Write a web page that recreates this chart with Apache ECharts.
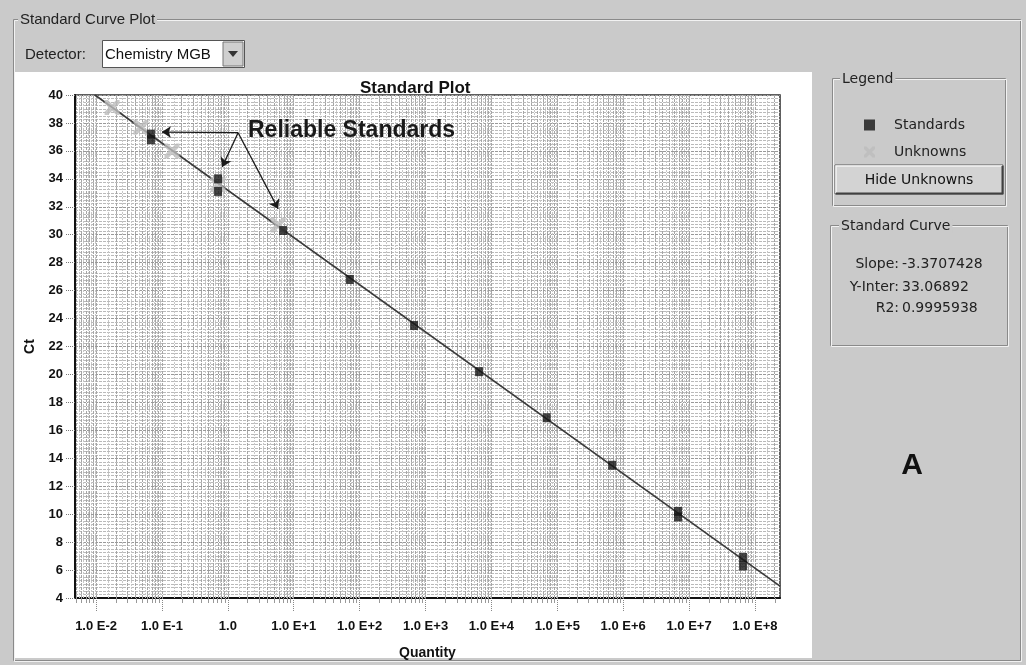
<!DOCTYPE html>
<html><head><meta charset="utf-8">
<script src="https://cdn.jsdelivr.net/npm/echarts@6/dist/echarts.min.js"></script>
<style>html,body{margin:0;padding:0;background:#cacaca;}#c{width:1026px;height:665px;}</style>
</head><body><div id="c"></div>
<script>
// ---- data ----
const standardQuantity = [0.068, 0.068, 0.71, 0.71, 6.9, 71, 670, 6500, 69000, 680000, 6.8e6, 6.8e6, 6.6e7, 6.6e7];
const standardCt       = [37.2, 36.8, 34.0, 33.1, 30.3, 26.8, 23.5, 20.2, 16.9, 13.5, 10.2, 9.8, 6.9, 6.3];
const unknownQuantity  = [0.0175, 0.048, 0.142, 0.71, 5.8];
const unknownCt        = [39.1, 37.7, 36.0, 33.6, 30.7];
const fitQuantity      = [0.0096, 2.4e8];
const fitCt            = [40.0, 4.85];
const arrowFromQuantity = [1.43, 1.43, 1.43];
const arrowFromCt       = [37.3, 37.3, 37.3];
const arrowToQuantity   = [0.10, 0.82, 5.8];
const arrowToCt         = [37.35, 34.85, 31.85];
const decadeExponents   = [-2, -1, 0, 1, 2, 3, 4, 5, 6, 7, 8];
const curveLabels = ['Slope:', 'Y-Inter:', 'R2:'];
const curveValues = ['-3.3707428', '33.06892', '0.9995938'];
const legendNames = ['Standards', 'Unknowns'];

const X_MIN = -2.32, X_MAX = 8.38;
const lg = Math.log10;
const xr = v => Math.round(v * 1e6) / 1e6;

// log-decade sub lines of each decade for grid and minor ticks
const minorPos = [], gridPos = [], halfPos = [];
for (let n = -3; n <= 8; n++) {
  for (let k = 1; k <= 9; k++) {
    const p = xr(n + lg(k));
    if (p > X_MIN && p < X_MAX) {
      gridPos.push(p);
      if (k > 1) minorPos.push(p);
    }
    const h = xr(n + lg(k + 0.5));
    if (h > X_MIN && h < X_MAX) halfPos.push(h);
  }
}

const FONT = '"Liberation Sans", Arial, sans-serif';
const UI = '"DejaVu Sans", sans-serif';
const xPath = 'path://M0,0L2.2,0L10,7.8L10,10L7.8,10L0,2.2Z M7.8,0L10,0L10,2.2L2.2,10L0,10L0,7.8Z';

const chart = echarts.init(document.getElementById('c'), null, {renderer: 'canvas'});

function groupBox(x, y, w, h, title, tx, font) {
  return [
    {type: 'rect', z: -5, shape: {x: x + 0.5, y: y + 0.5, width: w, height: h}, style: {fill: 'none', stroke: '#8a8a8a', lineWidth: 1}},
    {type: 'rect', z: -5, shape: {x: x + 1.5, y: y + 1.5, width: w, height: h}, style: {fill: 'none', stroke: '#f2f2f2', lineWidth: 1}},
    {type: 'text', z: -4, style: {text: title, x: tx, y: y + 1, fill: '#222', fontSize: font.size, fontFamily: font.family,
      backgroundColor: '#cacaca', padding: [0, 2], align: 'left', verticalAlign: 'middle', textAlign: 'left', textVerticalAlign: 'middle'}}
  ];
}

const graphics = [];
graphics.push(...groupBox(13, 19, 1007, 641, 'Standard Curve Plot', 18, {size: 15, family: FONT}));
graphics.push({type: 'text', style: {text: 'Detector:', x: 25, y: 55, fill: '#222', fontSize: 15, fontFamily: FONT, verticalAlign: 'middle', textVerticalAlign: 'middle'}});
graphics.push({type: 'rect', shape: {x: 102.5, y: 40.5, width: 142, height: 27}, style: {fill: '#fff', stroke: '#555'}});
graphics.push({type: 'text', style: {text: 'Chemistry MGB', x: 105, y: 55, fill: '#111', fontSize: 15, fontFamily: FONT, verticalAlign: 'middle', textVerticalAlign: 'middle'}});
graphics.push({type: 'rect', shape: {x: 223, y: 42, width: 20, height: 24}, style: {fill: '#cfcfcf', stroke: '#777'}});
graphics.push({type: 'polygon', shape: {points: [[228, 51], [238, 51], [233, 57]]}, style: {fill: '#333'}});
graphics.push({type: 'rect', z: -8, shape: {x: 15, y: 72, width: 797, height: 586}, style: {fill: '#ffffff'}});
graphics.push({type: 'text', z: 20, style: {text: 'Reliable Standards', x: 248, y: 131, fill: '#1a1a1a', fontSize: 23, fontWeight: 'bold', fontFamily: FONT, verticalAlign: 'middle', textVerticalAlign: 'middle'}});
graphics.push(...groupBox(832, 78, 173, 127, 'Legend', 840, {size: 14, family: UI}));
graphics.push({type: 'rect', shape: {x: 835, y: 165, width: 168, height: 29}, style: {fill: '#d3d3d3', stroke: '#5a5a5a', lineWidth: 1}});
graphics.push({type: 'polyline', shape: {points: [[836, 193], [836, 166], [1002, 166]]}, style: {stroke: '#f4f4f4', lineWidth: 1.5, fill: 'none'}});
graphics.push({type: 'polyline', shape: {points: [[836, 193.5], [1002.5, 193.5], [1002.5, 166]]}, style: {stroke: '#404040', lineWidth: 2, fill: 'none'}});
graphics.push({type: 'text', style: {text: 'Hide Unknowns', x: 919, y: 180, fill: '#111', fontSize: 14, fontFamily: UI, align: 'center', verticalAlign: 'middle', textAlign: 'center', textVerticalAlign: 'middle'}});
graphics.push(...groupBox(830, 225, 177, 120, 'Standard Curve', 839, {size: 14, family: UI}));
curveLabels.forEach((t, i) => {
  const y = [264, 287, 308][i];
  graphics.push({type: 'text', style: {text: t, x: 899, y: y, fill: '#222', fontSize: 14, fontFamily: UI, align: 'right', verticalAlign: 'middle', textAlign: 'right', textVerticalAlign: 'middle'}});
  graphics.push({type: 'text', style: {text: curveValues[i], x: 902, y: y, fill: '#222', fontSize: 14, fontFamily: UI, align: 'left', verticalAlign: 'middle', textAlign: 'left', textVerticalAlign: 'middle'}});
});
graphics.push({type: 'text', style: {text: 'A', x: 912, y: 466, fill: '#111', fontSize: 30, fontWeight: 'bold', fontFamily: FONT, align: 'center', verticalAlign: 'middle', textAlign: 'center', textVerticalAlign: 'middle'}});

const option = {
  animation: false,
  backgroundColor: '#cacaca',
  title: {text: 'Standard Plot', left: 355, top: 75, textStyle: {fontSize: 17, fontWeight: 'bold', color: '#111', fontFamily: FONT}},
  legend: {
    data: legendNames, orient: 'vertical', left: 859, top: 113, itemWidth: 11, itemHeight: 11, itemGap: 13,
    textStyle: {fontSize: 14, color: '#222', fontFamily: UI, padding: [0, 0, 0, 14]}, selectedMode: false
  },
  grid: {left: 75, right: 246, top: 95, bottom: 67, show: true, borderColor: '#2a2a2a', borderWidth: 1.5, backgroundColor: 'transparent'},
  xAxis: [{
    type: 'value', min: X_MIN, max: X_MAX,
    name: 'Quantity', nameLocation: 'middle', nameGap: 48,
    nameTextStyle: {fontSize: 14, fontWeight: 'bold', color: '#111', fontFamily: FONT},
    axisLine: {show: true, onZero: false, lineStyle: {color: '#111', width: 2}},
    axisTick: {show: true, customValues: decadeExponents, length: 14, lineStyle: {color: '#888', type: 'dotted'}},
    axisLabel: {customValues: decadeExponents, margin: 22, fontSize: 13, fontWeight: 'bold', color: '#111', fontFamily: FONT,
      formatter: v => v === 0 ? '1.0' : '1.0 E' + (v > 0 ? '+' : '') + v},
    splitLine: {show: false}
  }, {
    type: 'value', min: X_MIN, max: X_MAX, position: 'bottom',
    axisLine: {show: false, onZero: false},
    axisTick: {show: true, customValues: minorPos, length: 5, lineStyle: {color: '#999'}},
    axisLabel: {show: false}, splitLine: {show: false}
  }],
  yAxis: {
    type: 'value', min: 4, max: 40, interval: 2,
    name: 'Ct', nameLocation: 'middle', nameGap: 34,
    nameTextStyle: {fontSize: 14, fontWeight: 'bold', color: '#111', fontFamily: FONT},
    axisLine: {show: true, onZero: false, lineStyle: {color: '#111', width: 2}},
    axisTick: {show: true, length: 9, lineStyle: {color: '#777', type: 'dotted'}},
    axisLabel: {margin: 12, fontSize: 13, fontWeight: 'bold', color: '#111', fontFamily: FONT},
    splitLine: {show: true, lineStyle: {color: '#999999', type: [3, 1]}},
    minorTick: {show: false, splitNumber: 8},
    minorSplitLine: {show: true, lineStyle: {color: '#bababa', type: [3, 1]}}
  },
  series: [
    {
      name: 'Grid', type: 'line', xAxisIndex: 0, z: 1, silent: true, symbol: 'none',
      data: [[X_MIN, 4]], lineStyle: {opacity: 0},
      markLine: {
        silent: true, symbol: 'none', z: 1, animation: false, label: {show: false},
        lineStyle: {color: '#c8c8c8', width: 1, type: [2, 1]},
        data: halfPos.map(p => ({xAxis: p}))
      }
    },
    {
      name: 'Fit', type: 'line', xAxisIndex: 0, z: 3, silent: true, showSymbol: false, symbol: 'none',
      data: fitQuantity.map((q, i) => [lg(q), fitCt[i]]),
      lineStyle: {color: '#3a3a3a', width: 1.6},
      markLine: {
        silent: true, symbol: 'none', z: 1, animation: false, label: {show: false},
        lineStyle: {color: '#a6a6a6', width: 1, type: [3, 1]},
        data: gridPos.map(p => ({xAxis: p}))
      }
    },
    {
      name: 'Unknowns', type: 'scatter', xAxisIndex: 0, z: 4, symbol: xPath, symbolSize: 15,
      itemStyle: {color: '#bcbcbc'},
      data: unknownQuantity.map((q, i) => [lg(q), unknownCt[i]])
    },
    {
      name: 'Standards', type: 'scatter', xAxisIndex: 0, z: 5, symbol: 'rect', symbolSize: [8, 9],
      itemStyle: {color: '#151515'},
      data: standardQuantity.map((q, i) => [lg(q), standardCt[i]]),
      markLine: {
        silent: true, z: 6, animation: false, symbol: ['none', 'arrow'], symbolSize: 9,
        label: {show: false}, lineStyle: {color: '#1a1a1a', width: 1.3, type: 'solid'},
        data: arrowFromQuantity.map((q, i) => [
          {coord: [lg(q), arrowFromCt[i]]},
          {coord: [lg(arrowToQuantity[i]), arrowToCt[i]]}
        ])
      }
    }
  ],
  graphic: graphics
};
chart.setOption(option);
</script>
</body></html>
